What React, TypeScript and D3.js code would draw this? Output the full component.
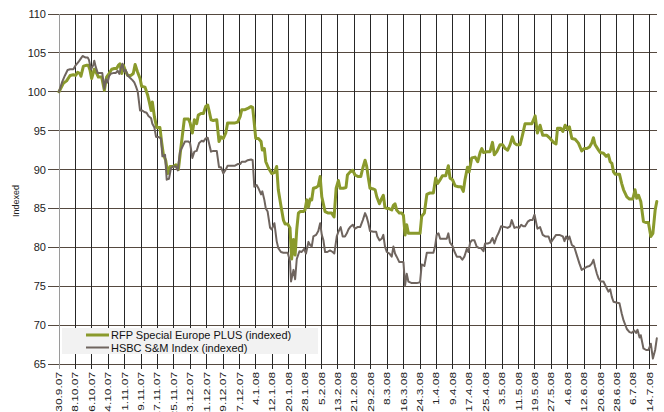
import React from "react";
import * as d3 from "d3";

// Days since 30.9.2007 and index values
const rfpDays = [0,2.1,3.7,5.4,7.0,8.1,9.1,10.2,10.7,11.9,13.5,14.3,15.1,15.9,17.2,18.4,19.2,20.8,22.1,23.2,24.4,25.7,27.0,28.1,28.9,29.7,30.6,31.4,32.5,33.5,35.1,36.2,37.1,38.2,39.5,40.3,41.9,43.2,44.0,44.9,45.5,46.5,47.6,49.2,50.1,50.9,52.0,53.0,54.1,55.7,57.0,58.2,59.5,61.1,63.1,63.9,65.0,66.0,67.1,67.9,69.2,70.4,71.5,72.5,73.3,74.1,75.2,76.9,78.0,79.0,80.1,81.3,82.2,84.2,85.8,87.1,88.3,89.1,90.7,92.3,93.6,94.4,95.2,95.9,97.2,98.5,99.1,100.1,100.8,102.1,103.7,105.0,106.1,106.9,108.2,109.4,110.2,111.5,112.6,113.4,114.3,115.1,115.9,116.7,117.5,119.1,119.9,120.8,121.6,122.4,123.2,124.0,125.3,126.4,127.3,128.1,129.7,131.3,132.9,134.1,135.1,136.2,137.0,138.6,139.9,140.6,141.9,143.2,144.3,145.9,147.1,148.1,149.2,150.0,150.8,151.6,153.3,154.1,154.9,156.2,157.3,158.1,158.9,159.8,160.6,162.2,163.0,163.8,164.6,165.9,167.1,167.9,168.7,169.5,170.3,172.0,174.4,176.0,176.8,178.1,179.3,180.9,182.5,183.6,184.6,185.8,186.9,188.5,189.8,190.6,191.8,193.1,194.7,196.0,197.1,197.9,199.1,199.9,201.2,202.8,204.1,205.3,206.1,206.9,208.5,210.1,211.3,212.2,213.4,215.0,216.2,217.5,218.7,219.9,221.0,222.0,223.1,224.8,225.9,227.2,228.8,230.5,231.3,232.1,233.2,234.5,235.8,237.8,239.4,241.0,242.3,243.0,244.6,245.6,246.7,247.8,248.8,250.0,251.6,253.2,254.8,256.0,257.3,258.6,259.7,260.5,261.3,263.0,263.8,265.4,266.7,267.8,268.7,269.5,270.3,271.1,273.2,274.3,275.2,276.8,278.1,279.7,280.8,281.6,282.5,283.6,284.9,286.2,287.3,288.5,289.5,290.6,291.4];
const rfpValues = [100.0,101.1,101.4,102.1,102.2,102.1,102.5,102.35,102.0,103.3,103.4,103.4,102.8,101.7,102.9,102.35,101.9,101.9,100.2,101.9,102.35,102.9,103.0,103.0,103.4,103.6,102.35,103.4,102.6,102.1,102.1,102.35,103.5,102.6,101.7,100.7,100.6,99.6,98.7,97.6,98.7,96.8,95.4,95.4,93.4,91.9,91.2,89.5,90.4,90.4,90.6,90.0,93.0,96.5,96.5,96.0,94.7,96.4,95.9,97.0,97.2,97.2,98.1,98.3,97.4,96.4,96.3,96.4,93.6,94.2,94.0,94.7,96.0,96.0,96.0,96.1,96.8,97.7,97.7,97.9,98.1,98.0,95.9,94.0,94.0,93.6,92.5,92.7,91.0,90.2,89.5,89.6,90.4,87.4,85.3,83.5,83.0,83.0,82.5,78.5,81.0,79.0,82.3,84.4,84.6,84.6,84.8,86.1,85.2,86.2,86.1,87.6,87.7,87.9,89.1,86.5,84.6,84.4,84.4,83.9,87.6,88.6,87.6,87.6,87.7,89.3,89.7,89.9,89.3,89.1,89.1,90.2,91.2,90.4,88.9,87.6,87.5,87.4,86.5,85.6,86.3,86.7,85.1,85.0,85.0,84.8,85.4,85.6,84.8,84.4,84.4,84.1,81.6,82.9,81.8,81.8,81.8,81.8,84.0,84.4,86.8,87.0,87.0,88.9,88.2,88.7,89.2,89.2,90.5,88.9,88.7,87.9,87.8,87.8,87.2,88.7,90.3,89.7,91.5,91.6,91.0,92.2,92.7,92.2,92.3,92.3,93.5,91.9,92.3,93.2,93.2,92.7,92.5,93.2,94.2,93.4,93.2,93.2,94.4,95.9,95.9,95.9,96.4,96.9,94.7,95.7,94.4,94.4,94.0,93.5,93.3,95.3,95.3,94.9,95.7,95.2,95.5,94.0,93.9,93.4,92.4,92.7,92.7,92.9,93.4,94.1,93.2,92.5,92.2,92.1,91.7,91.9,91.0,90.8,89.7,89.4,89.4,88.2,87.4,86.5,86.2,86.2,87.4,86.3,86.7,85.9,83.3,83.2,83.2,81.4,81.8,84.8,85.9];

const hsbcDays = [0,1.6,2.9,4.2,5.4,7.0,8.1,9.4,10.7,11.5,13.0,14.0,14.6,15.6,16.7,17.2,17.9,18.9,20.0,21.1,22.1,22.8,23.7,24.4,25.4,26.5,27.6,28.6,29.4,30.1,30.9,31.7,32.5,33.5,34.6,35.8,36.7,37.5,38.4,39.5,40.6,41.6,42.7,43.6,44.9,45.5,46.5,47.3,48.4,49.7,50.4,51.7,52.5,53.6,54.6,55.7,56.9,57.9,59.0,60.1,61.4,63.1,63.9,65.0,66.0,67.1,68.3,69.6,70.4,71.5,72.5,73.3,74.1,75.2,76.9,78.0,79.0,80.1,81.3,82.2,84.2,85.8,87.1,88.3,89.1,90.7,92.0,93.6,94.4,95.2,96.4,97.2,98.5,99.1,100.1,100.8,101.7,102.9,103.7,105.0,106.1,106.9,108.2,109.4,111.5,112.6,113.1,114.3,115.1,115.9,117.2,118.3,119.5,120.4,121.6,122.4,123.2,124.0,125.3,126.4,127.3,128.1,128.9,129.7,130.8,132.1,133.4,134.2,135.4,136.2,137.3,138.3,139.4,140.3,141.1,141.9,143.2,144.3,145.5,146.8,148.1,149.2,150.0,150.8,151.6,153.3,154.6,155.2,156.2,157.3,158.1,158.9,159.8,161.1,162.2,163.0,163.8,164.6,165.9,167.1,167.9,168.7,169.5,170.3,172.0,174.4,176.0,176.8,178.1,179.3,180.9,182.5,183.3,184.1,185.0,185.8,187.4,189.0,189.8,190.6,191.8,192.7,193.9,195.5,196.6,197.6,198.8,199.6,200.4,201.2,202.5,203.6,204.8,205.7,206.9,207.7,209.0,210.1,211.3,212.2,213.4,214.2,215.5,217.5,218.7,219.9,220.7,222.0,223.1,224.3,225.3,226.4,227.2,228.5,229.6,230.8,231.8,233.2,234.5,235.8,237.0,238.6,239.7,241.0,242.3,243.9,245.6,246.4,247.2,248.0,248.8,250.0,251.1,252.4,253.7,254.8,256.0,257.3,258.6,259.7,260.5,261.3,262.2,263.0,264.1,265.4,266.7,267.8,268.7,269.5,270.3,271.6,273.2,274.3,275.2,276.8,278.1,279.2,280.4,281.3,282.0,283.0,283.6,284.9,286.2,287.3,288.5,289.5,290.6,291.4];
const hsbcValues = [100.0,101.3,102.1,102.8,102.9,102.9,103.4,103.8,104.3,104.6,104.4,104.4,104.1,102.9,103.4,104.0,103.2,102.4,102.4,102.4,100.4,101.6,101.2,102.0,102.35,102.4,102.4,102.7,102.3,103.0,103.6,102.6,102.8,102.1,101.8,101.5,101.2,100.7,100.0,97.6,97.6,97.4,97.3,96.9,96.6,95.9,95.4,94.2,94.2,94.0,91.7,91.9,88.7,88.8,90.2,90.4,90.4,89.9,92.3,92.9,93.6,93.6,93.4,91.5,92.3,92.4,93.4,93.7,93.6,94.0,94.1,93.2,92.3,92.4,92.4,90.3,90.3,89.5,90.0,90.5,90.5,90.5,90.7,90.7,91.0,91.0,91.2,91.3,91.2,87.8,88.0,87.6,86.8,87.2,86.1,85.0,84.6,82.5,82.3,83.1,80.8,79.9,79.4,79.3,79.3,78.2,75.6,77.1,75.9,78.5,79.5,79.4,79.8,79.2,80.7,80.3,80.1,81.4,81.6,82.1,83.1,81.6,80.9,79.4,79.4,79.6,79.4,79.2,81.4,82.0,82.6,81.4,81.4,81.8,82.3,82.6,82.9,82.4,82.6,82.6,83.5,84.4,83.9,83.1,82.1,82.0,82.0,81.4,80.9,81.1,81.6,80.1,79.4,79.2,78.8,80.1,79.2,78.8,78.1,78.1,78.1,75.1,76.6,75.6,75.4,75.4,75.5,77.8,77.6,79.3,79.3,79.3,80.1,81.6,81.8,81.1,81.1,81.1,81.8,80.6,80.2,79.5,78.8,78.8,78.4,78.8,79.8,79.4,80.6,80.9,80.9,80.1,79.9,79.9,79.5,80.5,80.5,80.6,81.2,80.5,81.4,81.8,82.7,82.6,82.5,82.7,83.5,82.5,82.6,82.5,82.9,82.7,82.7,83.3,83.5,83.5,84.2,82.4,82.6,81.6,81.4,81.4,80.6,81.1,81.6,81.6,81.4,80.8,81.4,81.0,81.4,80.3,80.1,79.0,77.9,77.1,77.3,77.5,77.6,77.9,78.4,77.5,76.6,76.0,75.6,75.6,74.9,74.3,74.6,73.6,73.0,72.9,72.8,71.5,70.6,69.5,69.1,69.0,69.3,69.0,69.4,68.4,68.7,67.0,66.8,66.8,67.6,65.7,66.8,68.3];

const seriesNames = ["RFP Special Europe PLUS (indexed)", "HSBC S&M Index (indexed)"];
const yTicks = [65, 70, 75, 80, 85, 90, 95, 100, 105, 110];
const tickStepDays = 8;
const tickCount = 37;
const startDate = new Date(2007, 8, 30);

const FONT = "'Liberation Sans', Arial, Helvetica, sans-serif";

export default function App() {
  const W = 664, H = 412;
  const left = 59, right = 657, top = 14, bottom = 364;
  const x = d3.scaleLinear().domain([0, 291.5]).range([left, right]);
  const y = d3.scaleLinear().domain([65, 110]).range([bottom, top]);
  const fmt = d3.timeFormat("%-d.%-m.%y");
  const xTicks = d3.range(tickCount).map((i) => i * tickStepDays);

  const rfp = rfpDays.map((d, i) => [d, rfpValues[i]] as [number, number]);
  const hsbc = hsbcDays.map((d, i) => [d, hsbcValues[i]] as [number, number]);
  const line = d3.line<[number, number]>().x((p) => x(p[0])).y((p) => y(p[1]));

  const green = "#8a9a2c";
  const gray = "#6f655f";

  return (
    <svg width={W} height={H} style={{ position: "absolute", left: 0, top: 0, background: "#fff" }} fontFamily={FONT}>
      {/* horizontal gridlines + y ticks */}
      {yTicks.map((t) => (
        <line key={"h" + t} x1={48} x2={right} y1={y(t)} y2={y(t)} stroke="#55493f" strokeWidth={1} shapeRendering="crispEdges" />
      ))}
      {/* vertical gridlines + x ticks */}
      {xTicks.map((t) => (
        <line key={"v" + t} x1={x(t)} x2={x(t)} y1={top} y2={bottom + 5} stroke={t === 0 ? "#9a9a9a" : "#262626"} strokeWidth={1} shapeRendering="crispEdges" />
      ))}
      {/* y labels */}
      {yTicks.map((t) => (
        <text key={"yl" + t} x={46} y={y(t) + 4} textAnchor="end" fontSize={11} fill="#222">{t}</text>
      ))}
      <text transform={`translate(19,${(top + bottom) / 2 + 12}) rotate(-90)`} textAnchor="middle" fontSize={9} fill="#222">Indexed</text>
      {/* x labels */}
      {xTicks.map((t) => (
        <text key={"xl" + t} transform={`translate(${x(t) + 3},372) rotate(-90) scale(1.4,1)`} textAnchor="end" fontSize={8.5} fill="#222">
          {fmt(d3.timeDay.offset(startDate, t))}
        </text>
      ))}
      {/* series */}
      <path d={line(rfp) || ""} fill="none" stroke={green} strokeWidth={3} strokeLinejoin="round" strokeLinecap="round" />
      <path d={line(hsbc) || ""} fill="none" stroke={gray} strokeWidth={2} strokeLinejoin="round" strokeLinecap="round" />
      {/* legend */}
      <rect x={62} y={328} width={256} height={26} fill="#f2f2f2" />
      <line x1={86} x2={109} y1={335} y2={335} stroke={green} strokeWidth={3} />
      <line x1={86} x2={109} y1={347.5} y2={347.5} stroke={gray} strokeWidth={2} />
      <text x={111} y={339} fontSize={11} fill="#111">{seriesNames[0]}</text>
      <text x={111} y={351.5} fontSize={11} fill="#111">{seriesNames[1]}</text>
    </svg>
  );
}
